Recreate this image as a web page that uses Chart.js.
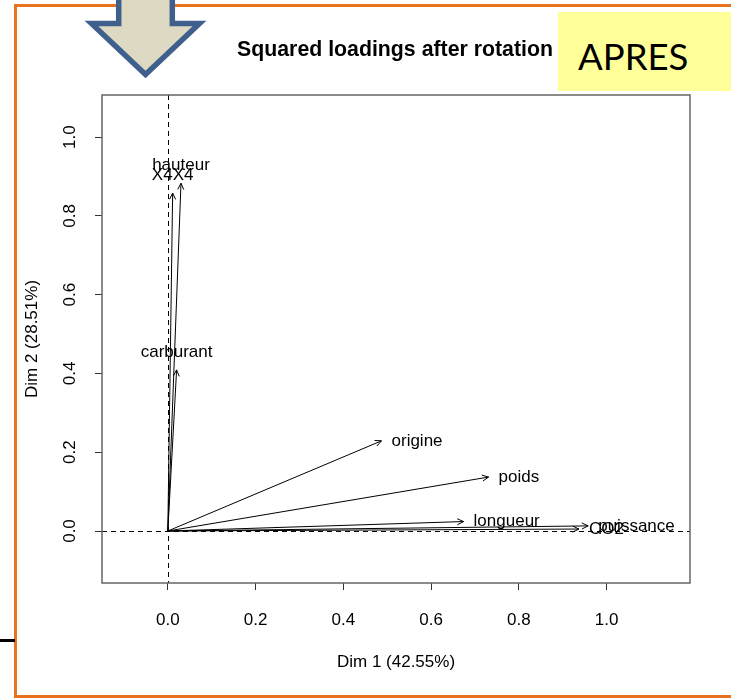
<!DOCTYPE html>
<html>
<head>
<meta charset="utf-8">
<title>Squared loadings after rotation</title>
<script src="https://cdn.jsdelivr.net/npm/chart.js@4.4.1/dist/chart.umd.min.js"></script>
<style>
html,body{margin:0;padding:0;background:#fff;}
#page{position:relative;width:731px;height:698px;overflow:hidden;}
#frame{position:absolute;left:14px;top:4px;width:800px;height:688px;border-left:3px solid #E8731F;border-top:3px solid #E8731F;border-bottom:3px solid #E8731F;}
#leftMark{position:absolute;left:0;top:639px;width:15px;height:3px;background:#000;}
#arrowDeco{position:absolute;left:0;top:0;}
#apres{position:absolute;left:558px;top:12px;width:190px;height:79px;background:#FFFF99;}
#apres span{position:absolute;left:20px;top:25px;font-family:Lato,"Open Sans",sans-serif;font-size:36.5px;line-height:38px;color:#000;}
#mainChart{position:absolute;left:0;top:0;}
</style>
</head>
<body>
<div id="page">
  <div id="frame"></div>
  <div id="leftMark"></div>
  <svg id="arrowDeco" width="220" height="90">
    <polygon points="118.7,-6 172.3,-6 172.3,23.5 199.5,23.5 145.5,74.5 91.5,23.5 118.7,23.5" fill="#DDD9C3" stroke="#3F5F8C" stroke-width="5.5"/>
  </svg>
  <div id="apres"><span>APRES</span></div>
  <canvas id="mainChart" width="731" height="698"></canvas>
</div>
<script>
"use strict";
// variables and their squared loadings on the two dimensions
const varNames=["hauteur","X4X4","carburant","origine","poids","longueur","puissance","CO2"];
const dim1=[0.030,0.011,0.020,0.487,0.731,0.674,0.958,0.937];
const dim2=[0.883,0.858,0.409,0.229,0.137,0.024,0.013,0.005];
// ticks
const tickValues=[0,0.2,0.4,0.6,0.8,1.0];
const tickLabels=["0.0","0.2","0.4","0.6","0.8","1.0"];
const chartTitle="Squared loadings after rotation";
const xTitle="Dim 1 (42.55%)";
const yTitle="Dim 2 (28.51%)";

const baseFont='"Liberation Sans", Arial, sans-serif';

//one line (origin -> point) per variable
const datasets=varNames.map((name,i)=>({
    label:name,
    data:[{x:0,y:0},{x:dim1[i],y:dim2[i]}],
    showLine:true,
    borderColor:"#000",
    borderWidth:1,
    pointRadius:0,
    fill:false
}));

const loadingPlugin={
    id:"loadingPlugin",
    beforeDatasetsDraw(chart){
        const {ctx,chartArea:a,scales:{x,y}}=chart;
        ctx.save();
        ctx.strokeStyle="#000";
        ctx.lineWidth=1;
        ctx.setLineDash([5,4]);
        const x0=Math.round(x.getPixelForValue(0))+0.5;
        const y0=Math.round(y.getPixelForValue(0))+0.5;
        ctx.beginPath();
        ctx.moveTo(x0,a.top);ctx.lineTo(x0,a.bottom);
        ctx.moveTo(a.left,y0);ctx.lineTo(a.right,y0);
        ctx.stroke();
        ctx.restore();
    },
    afterDatasetsDraw(chart){
        const ctx=chart.ctx;
        ctx.save();
        ctx.strokeStyle="#000";
        ctx.lineWidth=1;
        ctx.fillStyle="#000";
        ctx.font="17px "+baseFont;
        chart.data.datasets.forEach((ds,i)=>{
            const pts=chart.getDatasetMeta(i).data;
            const p0=pts[0],p1=pts[1];
            const ang=Math.atan2(p1.y-p0.y,p1.x-p0.x);
            const len=7,spread=Math.PI/7;
            //arrow head
            ctx.beginPath();
            ctx.moveTo(p1.x-len*Math.cos(ang-spread),p1.y-len*Math.sin(ang-spread));
            ctx.lineTo(p1.x,p1.y);
            ctx.lineTo(p1.x-len*Math.cos(ang+spread),p1.y-len*Math.sin(ang+spread));
            ctx.stroke();
            //label: above the tip for the near-vertical ones, to the right otherwise
            ctx.textBaseline="middle";
            if(Math.abs(dim1[i])<0.1){
                ctx.textAlign="center";
                ctx.fillText(ds.label,p1.x,p1.y-18);
            }else{
                ctx.textAlign="left";
                ctx.fillText(ds.label,p1.x+10,p1.y);
            }
        });
        ctx.restore();
    },
    afterDraw(chart){
        const {ctx,chartArea:a,scales:{y}}=chart;
        ctx.save();
        //box
        ctx.strokeStyle="#666";
        ctx.lineWidth=1.5;
        ctx.strokeRect(a.left,a.top,a.right-a.left,a.bottom-a.top);
        ctx.fillStyle="#000";
        //y tick labels, rotated like R does
        ctx.font="17px "+baseFont;
        ctx.textAlign="center";
        ctx.textBaseline="middle";
        y.ticks.forEach((t,i)=>{
            const py=y.getPixelForValue(t.value);
            ctx.save();
            ctx.translate(70,py);
            ctx.rotate(-Math.PI/2);
            ctx.fillText(tickLabels[i],0,0);
            ctx.restore();
        });
        //axis titles
        const cx=(a.left+a.right)/2,cy=(a.top+a.bottom)/2;
        ctx.fillText(xTitle,cx,662);
        ctx.save();
        ctx.translate(32,cy);
        ctx.rotate(-Math.PI/2);
        ctx.fillText(yTitle,0,0);
        ctx.restore();
        //main title
        ctx.font="bold 21.3px "+baseFont;
        ctx.fillText(chartTitle,cx-1,50);
        ctx.restore();
    }
};

const mainChart=new Chart(document.getElementById("mainChart"),{
    type:"scatter",
    data:{datasets},
    options:{
        responsive:false,
        animation:false,
        layout:{padding:{top:95,right:41,left:0,bottom:0}},
        plugins:{legend:{display:false},tooltip:{enabled:false},title:{display:false}},
        scales:{
            x:{
                type:"linear",
                min:-0.15,
                max:1.19,
                afterBuildTicks:s=>{s.ticks=tickValues.map(v=>({value:v}));},
                afterFit:s=>{s.height=115;},
                ticks:{
                    callback:(v,i)=>tickLabels[i],
                    color:"#000",
                    font:{family:baseFont,size:17},
                    padding:20,
                    maxRotation:0,
                    autoSkip:false
                },
                grid:{drawOnChartArea:false,drawTicks:true,tickLength:7,color:"#333",lineWidth:1},
                border:{display:false}
            },
            y:{
                type:"linear",
                min:-0.132,
                max:1.107,
                afterBuildTicks:s=>{s.ticks=tickValues.map(v=>({value:v}));},
                afterFit:s=>{s.width=102;},
                ticks:{display:false},
                grid:{drawOnChartArea:false,drawTicks:true,tickLength:7,color:"#333",lineWidth:1},
                border:{display:false}
            }
        }
    },
    plugins:[loadingPlugin]
});
</script>
</body>
</html>
